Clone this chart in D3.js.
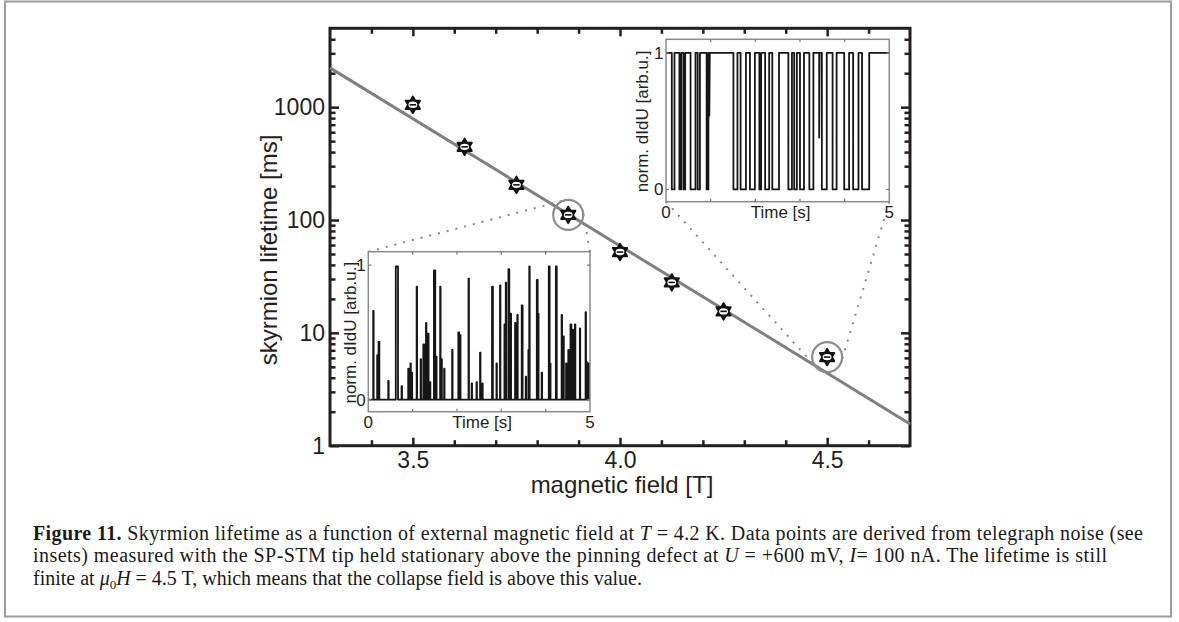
<!DOCTYPE html>
<html><head><meta charset="utf-8">
<script src="https://cdn.jsdelivr.net/npm/d3@7"></script>
<style>body{margin:0;background:#fff}svg{display:block}</style>
</head><body><svg id="c" width="1179" height="622"></svg>
<script>
// ---------- data ----------
const fieldT      = [3.5, 3.625, 3.75, 3.875, 4.0, 4.125, 4.25, 4.5];
const lifetimeMs  = [1050, 445, 205, 111, 52, 28, 15.5, 6.1];
const fitField    = [3.3, 4.7];
const fitLifetime = [2230, 1.56];
const xMajorTicks = [3.5, 4.0, 4.5];
const xTickLabels = ["3.5", "4.0", "4.5"];
const xMinorTicks = [3.4, 3.6, 3.7, 3.8, 3.9, 4.1, 4.2, 4.3, 4.4, 4.6];
const yMajorTicks = [1, 10, 100, 1000];
const yTickLabels = ["1", "10", "100", "1000"];
const yMinorTicks = [2,3,4,5,6,7,8,9,20,30,40,50,60,70,80,90,200,300,400,500,600,700,800,900,2000,3000,4000];
const circledField = [3.875, 4.5];

// inset A (3.875 T): spikes from baseline 0
const spikeTime   = [0.11,0.20,0.23,0.45,0.62,0.75,0.90,0.95,0.98,1.09,1.18,1.24,1.30,1.34,1.39,1.48,1.53,1.62,1.65,1.71,1.89,2.03,2.07,2.26,2.33,2.44,2.52,2.57,2.79,2.89,2.97,3.07,3.10,3.16,3.19,3.31,3.36,3.46,3.55,3.61,3.63,3.80,3.82,3.91,4.07,4.10,4.23,4.36,4.40,4.46,4.51,4.56,4.61,4.66,4.77,4.90,4.92,4.97];
const spikeHeight = [0.66,0.33,0.43,0.14,0.99,0.10,0.23,0.27,0.20,0.84,0.30,0.41,0.57,0.49,0.13,0.96,0.32,0.84,0.30,0.23,0.37,0.50,0.48,0.90,0.12,0.13,0.35,0.12,0.84,0.27,0.85,0.56,0.87,0.97,0.64,0.57,0.63,0.70,0.17,0.37,0.99,0.89,0.64,0.20,0.99,0.27,0.99,0.63,0.47,0.27,0.37,0.56,0.52,0.56,0.53,0.65,0.28,0.27];
const spikeWidth  = [0.01,0.01,0.02,0.01,0.05,0.01,0.01,0.01,0.01,0.01,0.01,0.02,0.01,0.02,0.01,0.03,0.01,0.01,0.01,0.01,0.01,0.02,0.01,0.01,0.01,0.01,0.01,0.01,0.02,0.01,0.01,0.01,0.01,0.02,0.03,0.01,0.01,0.02,0.01,0.01,0.01,0.02,0.02,0.01,0.02,0.01,0.02,0.01,0.01,0.01,0.01,0.02,0.01,0.01,0.01,0.01,0.01,0.01];

// inset B (4.5 T): telegraph signal at 1 with drops to 0
const lowStart = [0.13,0.30,0.39,0.55,0.71,0.91,1.51,1.67,1.88,2.09,2.22,2.38,2.74,2.87,3.00,3.21,3.49,3.73,3.99,4.19,4.39];
const lowEnd   = [0.19,0.34,0.43,0.66,0.76,0.95,1.60,1.79,1.99,2.13,2.31,2.53,2.82,2.93,3.09,3.30,3.60,3.82,4.10,4.31,4.55];
const dipTime  = [0.97, 3.43];
const dipLevel = [0.54, 0.38];

const insetXTicks = [1, 2, 3, 4];
const insetYTicks = [0, 1];

// ---------- drawing ----------
const svg = d3.select("#c");
const INK = "#231f20", GREY = "#808080";
svg.append("rect").attr("width",1179).attr("height",622).attr("fill","#fff");
svg.append("rect").attr("x",5).attr("y",1.5).attr("width",1166).attr("height",615)
  .attr("fill","none").attr("stroke","#9c9c9c").attr("stroke-width",2);

const P = {l:330, t:28.3, r:910, b:445.7};
const x = d3.scaleLinear().domain([3.3,4.7]).range([P.l,P.r]);
const y = d3.scaleLog().domain([1,5000]).range([P.b,P.t]);

const font = "'Liberation Sans', Arial, sans-serif";

function styleAxis(g, size){
  g.select(".domain").remove();
  g.selectAll(".tick line").attr("stroke",INK).attr("stroke-width",2.5);
  g.selectAll(".tick text").attr("fill",INK).attr("font-family",font).attr("font-size",size);
}
// left axis
svg.append("g").attr("transform",`translate(${P.l},0)`)
  .call(d3.axisLeft(y).tickValues(yMajorTicks).tickSize(-9).tickPadding(5).tickFormat((d,i)=>yTickLabels[i]))
  .call(g=>styleAxis(g,23));
svg.append("g").attr("transform",`translate(${P.l},0)`)
  .call(d3.axisLeft(y).tickValues(yMinorTicks).tickSize(-5.5).tickFormat(""))
  .call(g=>styleAxis(g,23));
// right axis
svg.append("g").attr("transform",`translate(${P.r},0)`)
  .call(d3.axisRight(y).tickValues(yMajorTicks).tickSize(-9).tickFormat(""))
  .call(g=>styleAxis(g,23));
svg.append("g").attr("transform",`translate(${P.r},0)`)
  .call(d3.axisRight(y).tickValues(yMinorTicks).tickSize(-5.5).tickFormat(""))
  .call(g=>styleAxis(g,23));
// bottom axis
svg.append("g").attr("transform",`translate(0,${P.b})`)
  .call(d3.axisBottom(x).tickValues(xMajorTicks).tickSize(-8).tickPadding(6).tickFormat((d,i)=>xTickLabels[i]))
  .call(g=>styleAxis(g,23));
svg.append("g").attr("transform",`translate(0,${P.b})`)
  .call(d3.axisBottom(x).tickValues(xMinorTicks).tickSize(-5.5).tickFormat(""))
  .call(g=>styleAxis(g,23));
// top axis
svg.append("g").attr("transform",`translate(0,${P.t})`)
  .call(d3.axisTop(x).tickValues(xMajorTicks).tickSize(-8).tickFormat(""))
  .call(g=>styleAxis(g,23));
svg.append("g").attr("transform",`translate(0,${P.t})`)
  .call(d3.axisTop(x).tickValues(xMinorTicks).tickSize(-5.5).tickFormat(""))
  .call(g=>styleAxis(g,23));
// frame
svg.append("rect").attr("x",P.l).attr("y",P.t).attr("width",P.r-P.l).attr("height",P.b-P.t)
  .attr("fill","none").attr("stroke",INK).attr("stroke-width",3);

// axis titles
svg.append("text").attr("x",(P.l+P.r)/2+2).attr("y",493).attr("text-anchor","middle")
  .attr("font-family",font).attr("font-size",24).attr("fill",INK).text("magnetic field [T]");
svg.append("text").attr("transform","translate(277,250) rotate(-90)").attr("text-anchor","middle")
  .attr("font-family",font).attr("font-size",24).attr("fill",INK).text("skyrmion lifetime [ms]");

// fit line
svg.append("path").datum(d3.zip(fitField,fitLifetime))
  .attr("d",d3.line().x(d=>x(d[0])).y(d=>y(d[1])))
  .attr("fill","none").attr("stroke",GREY).attr("stroke-width",3);

// ---------- insets ----------
function drawInset(box, path, axisLabelX){
  const ix = d3.scaleLinear().domain([0,5]).range([box.l,box.r]);
  const iy = d3.scaleLinear().domain([-0.09,1.1]).range([box.b,box.t]);
  const g = svg.append("g");
  g.append("rect").attr("x",box.l).attr("y",box.t).attr("width",box.r-box.l).attr("height",box.b-box.t)
    .attr("fill","#fff");
  // signal
  g.append("path").datum(path(ix,iy)).attr("d",d=>d).attr("fill","none")
    .attr("stroke","#161616").attr("stroke-width",1.8).attr("stroke-linejoin","round");
  g.append("rect").attr("x",box.l).attr("y",box.t).attr("width",box.r-box.l).attr("height",box.b-box.t)
    .attr("fill","none").attr("stroke","#8a8a8a").attr("stroke-width",1.5);
  // ticks
  insetXTicks.forEach(t=>{
    g.append("line").attr("x1",ix(t)).attr("x2",ix(t)).attr("y1",box.b).attr("y2",box.b-3).attr("stroke","#777").attr("stroke-width",1.2);
    g.append("line").attr("x1",ix(t)).attr("x2",ix(t)).attr("y1",box.t).attr("y2",box.t+3).attr("stroke","#777").attr("stroke-width",1.2);
  });
  insetYTicks.forEach(v=>{
    g.append("line").attr("x1",box.l).attr("x2",box.l+3).attr("y1",iy(v)).attr("y2",iy(v)).attr("stroke","#777").attr("stroke-width",1.2);
    g.append("line").attr("x1",box.r).attr("x2",box.r-3).attr("y1",iy(v)).attr("y2",iy(v)).attr("stroke","#777").attr("stroke-width",1.2);
    g.append("text").attr("x",box.l-2.5).attr("y",iy(v)).attr("dy","0.35em").attr("text-anchor","end")
      .attr("font-family",font).attr("font-size",17).attr("fill",INK).text(v);
  });
  const tb = box.b + 16.5;
  g.append("text").attr("x",ix(0)).attr("y",tb).attr("text-anchor","middle").attr("font-family",font).attr("font-size",17).attr("fill",INK).text("0");
  g.append("text").attr("x",ix(5)).attr("y",tb).attr("text-anchor","middle").attr("font-family",font).attr("font-size",17).attr("fill",INK).text("5");
  g.append("text").attr("x",(box.l+box.r)/2+3).attr("y",tb).attr("text-anchor","middle").attr("font-family",font).attr("font-size",17).attr("fill",INK).text("Time [s]");
  g.append("text").attr("transform",`translate(${axisLabelX},${(box.t+box.b)/2+1}) rotate(-90)`).attr("text-anchor","middle")
    .attr("font-family",font).attr("font-size",17).attr("fill",INK).text("norm. dIdU [arb.u.]");
  return {ix,iy};
}

const boxA = {l:368.3, t:251.7, r:590, b:411.7};
const boxB = {l:666, t:39.3, r:889.3, b:201.7};

function spikePath(ix,iy){
  const pts = [[0,0]];
  spikeTime.forEach((t,i)=>{
    pts.push([t,0],[t,spikeHeight[i]],[t+spikeWidth[i],spikeHeight[i]],[t+spikeWidth[i],0]);
  });
  pts.push([5,0]);
  return d3.line().x(d=>ix(d[0])).y(d=>iy(d[1]))(pts);
}
function telegraphPath(ix,iy){
  const ev = [];
  lowStart.forEach((a,i)=>ev.push({t:a,seg:[[a,1],[a,0],[lowEnd[i],0],[lowEnd[i],1]]}));
  dipTime.forEach((t,i)=>ev.push({t:t,seg:[[t,1],[t,dipLevel[i]],[t+0.01,1]]}));
  ev.sort((a,b)=>a.t-b.t);
  const pts=[[0,1]];
  ev.forEach(e=>pts.push(...e.seg));
  pts.push([5,1]);
  return d3.line().x(d=>ix(d[0])).y(d=>iy(d[1]))(pts);
}

// dotted connectors & circles
const circR = 15;
function tangent(px,py,cx,cy,r,pick){
  const dx=px-cx, dy=py-cy, d=Math.hypot(dx,dy);
  const th=Math.atan2(dy,dx), a=Math.acos(r/d);
  const p1=[cx+r*Math.cos(th+a), cy+r*Math.sin(th+a)];
  const p2=[cx+r*Math.cos(th-a), cy+r*Math.sin(th-a)];
  return pick(p1,p2);
}
const cA = [x(circledField[0]), y(lifetimeMs[fieldT.indexOf(circledField[0])])];
const cB = [x(circledField[1]), y(lifetimeMs[fieldT.indexOf(circledField[1])])];
const connectors = [
  [[boxA.l,boxA.t], tangent(boxA.l,boxA.t,cA[0],cA[1],circR,(a,b)=>a[1]<b[1]?a:b)],
  [[boxA.r,boxA.t], tangent(boxA.r,boxA.t,cA[0],cA[1],circR,(a,b)=>a[0]>b[0]?a:b)],
  [[boxB.l,boxB.b], tangent(boxB.l,boxB.b,cB[0],cB[1],circR,(a,b)=>a[0]<b[0]?a:b)],
  [[boxB.r,boxB.b], tangent(boxB.r,boxB.b,cB[0],cB[1],circR,(a,b)=>a[0]>b[0]?a:b)]
];
svg.selectAll("line.conn").data(connectors).join("line").attr("class","conn")
  .attr("x1",d=>d[0][0]).attr("y1",d=>d[0][1]).attr("x2",d=>d[1][0]).attr("y2",d=>d[1][1])
  .attr("stroke","#8a8a8a").attr("stroke-width",2).attr("stroke-dasharray","2,7");

drawInset(boxA, spikePath, 356);
drawInset(boxB, telegraphPath, 648);

// circles
svg.selectAll("circle.hl").data([cA,cB]).join("circle").attr("class","hl")
  .attr("cx",d=>d[0]).attr("cy",d=>d[1]).attr("r",circR)
  .attr("fill","none").attr("stroke","#8c8c8c").attr("stroke-width",2.2);

// markers (hexagram)
function hexagram(R){
  const p = d3.path();
  for(let k=0;k<12;k++){
    const ang = -Math.PI/2 + k*Math.PI/6;
    const rr = k%2===0 ? R : R/Math.sqrt(3);
    const px = rr*Math.cos(ang), py = rr*Math.sin(ang);
    if(k===0) p.moveTo(px,py); else p.lineTo(px,py);
  }
  p.closePath();
  return p.toString();
}
const mk = svg.selectAll("g.mk").data(d3.zip(fieldT,lifetimeMs)).join("g").attr("class","mk")
  .attr("transform",d=>`translate(${x(d[0])},${y(d[1])})`);
mk.append("path").attr("d",hexagram(8.2)).attr("fill","#111").attr("stroke","#111").attr("stroke-width",2).attr("stroke-linejoin","round");
mk.append("ellipse").attr("rx",4.4).attr("ry",3.2).attr("fill","#fff");
mk.append("line").attr("x1",-3.2).attr("x2",3.2).attr("y1",0).attr("y2",0).attr("stroke","#111").attr("stroke-width",1.6);

// ---------- caption ----------
const serif = "'Liberation Serif', 'Times New Roman', serif";
const cap = svg.append("g").attr("font-family",serif).attr("font-size",20).attr("fill","#1a1a1a");
const captionLines = [
  [["b","Figure 11."],["n"," Skyrmion lifetime as a function of external magnetic field at "],["i","T"],["n"," = 4.2 K. Data points are derived from telegraph noise (see"]],
  [["n","insets) measured with the SP-STM tip held stationary above the pinning defect at "],["i","U"],["n"," = +600 mV, "],["i","I"],["n","= 100 nA. The lifetime is still"]],
  [["n","finite at "],["i","μ"],["s","0"],["i","H"],["n"," = 4.5 T, which means that the collapse field is above this value."]]
];
const capBase = [539.5, 562, 584.5];
const capWidth = [1110, 1074, 609];
captionLines.forEach((parts,li)=>{
  const t = cap.append("text").attr("x",33).attr("y",capBase[li])
    .attr("textLength",capWidth[li]).attr("lengthAdjust","spacing");
  parts.forEach(([k,s])=>{
    const ts = t.append("tspan").text(s);
    if(k==="b") ts.attr("font-weight","bold");
    if(k==="i") ts.attr("font-style","italic");
    if(k==="s") ts.attr("font-size",13).attr("dy",4);
    if(k==="i" && s==="H") ts.attr("dy",-4);
  });
});
</script>
</body></html>
